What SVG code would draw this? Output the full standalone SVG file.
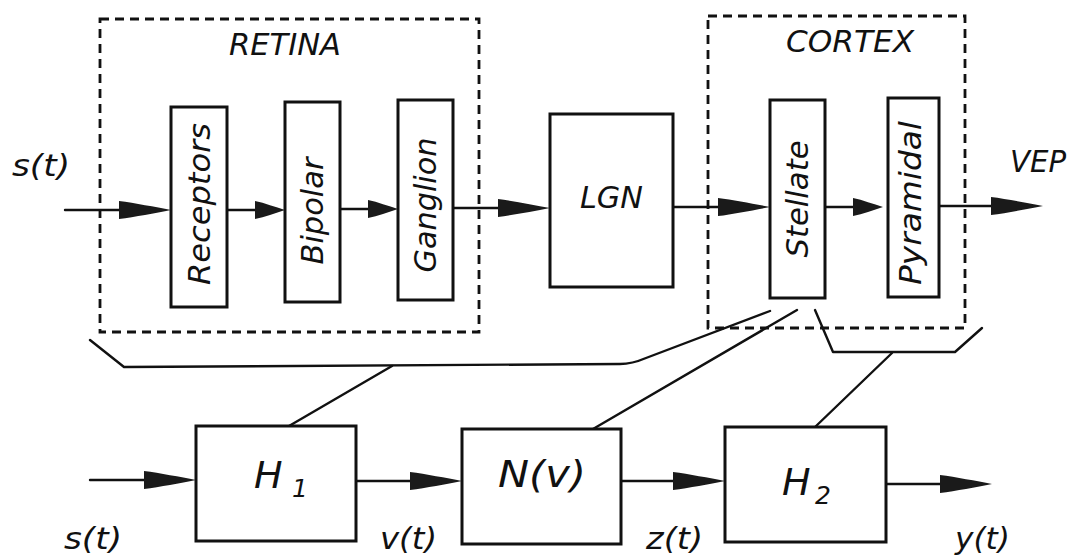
<svg xmlns="http://www.w3.org/2000/svg" width="1072" height="555" viewBox="0 0 1072 555">
<style>
  .bg{fill:#fff}
  .box{fill:#fff;stroke:#111;stroke-width:3}
  .dash{fill:none;stroke:#111;stroke-width:2.8;stroke-dasharray:9 6}
  .ln{fill:none;stroke:#111;stroke-width:2.4;stroke-linejoin:round;stroke-linecap:round}
  .ah{fill:#1a1a1a}
  text{font-family:"DejaVu Sans","Liberation Sans",Arial,sans-serif;font-style:italic;fill:#111}
  .t30{font-size:30px}
  .big{font-size:38px}
  .sub{font-size:25px}
  .rot{font-size:31px;text-anchor:middle}
</style>
<defs>
  <path id="ahL" class="ah" d="M0,0 C-16,-3 -36,-7 -52,-9 L-52,9 C-36,7 -16,3 0,0 Z"/>
  <path id="ahS" class="ah" d="M0,0 C-10,-3 -20,-7 -30,-9 L-30,9 C-20,7 -10,3 0,0 Z"/>
</defs>
<rect class="bg" x="0" y="0" width="1072" height="555"/>

<g id="retina">
  <rect class="dash" x="100" y="19" width="379" height="313"/>
  <text class="t30" x="285" y="55" text-anchor="middle" textLength="112" lengthAdjust="spacingAndGlyphs">RETINA</text>
</g>
<g id="cortex">
  <rect class="dash" x="708" y="16" width="257" height="312"/>
  <text class="t30" x="850" y="52" text-anchor="middle" textLength="128" lengthAdjust="spacingAndGlyphs">CORTEX</text>
</g>

<g id="connectors">
  <line class="ln" x1="65" y1="210" x2="140" y2="210"/>
  <line class="ln" x1="227" y1="210" x2="270" y2="210"/>
  <line class="ln" x1="340" y1="209" x2="380" y2="209"/>
  <line class="ln" x1="453" y1="208" x2="520" y2="208"/>
  <line class="ln" x1="673" y1="207" x2="740" y2="207"/>
  <line class="ln" x1="825" y1="207" x2="860" y2="207"/>
  <line class="ln" x1="939" y1="206" x2="1010" y2="206"/>
  <use href="#ahL" x="171" y="210"/>
  <use href="#ahS" x="285" y="210"/>
  <use href="#ahS" x="398" y="209"/>
  <use href="#ahL" x="550" y="208"/>
  <use href="#ahL" x="770" y="207"/>
  <use href="#ahS" x="883" y="207"/>
  <use href="#ahL" x="1043" y="206"/>
  <line class="ln" x1="90" y1="480" x2="160" y2="480"/>
  <line class="ln" x1="356" y1="481" x2="430" y2="481"/>
  <line class="ln" x1="621" y1="481" x2="690" y2="481"/>
  <line class="ln" x1="886" y1="484" x2="960" y2="484"/>
  <use href="#ahL" x="196" y="480"/>
  <use href="#ahL" x="462" y="481"/>
  <use href="#ahL" x="725" y="481"/>
  <use href="#ahL" x="992" y="484"/>
  <path class="ln" d="M90,340 L124,367 L620,364 Q632,364 646,358 L770,311"/>
  <line class="ln" x1="392" y1="366" x2="289" y2="426"/>
  <line class="ln" x1="797" y1="310" x2="593" y2="429"/>
  <path class="ln" d="M815,310 L833,352 L955,352 L982,328"/>
  <line class="ln" x1="892" y1="353" x2="814" y2="428"/>
</g>

<g id="receptors">
  <rect class="box" x="171" y="107" width="56" height="200"/>
  <text class="rot" transform="translate(210,204) rotate(-90)" textLength="162" lengthAdjust="spacingAndGlyphs">Receptors</text>
</g>
<g id="bipolar">
  <rect class="box" x="285" y="102" width="55" height="200"/>
  <text class="rot" transform="translate(323,211) rotate(-90)" textLength="107" lengthAdjust="spacingAndGlyphs">Bipolar</text>
</g>
<g id="ganglion">
  <rect class="box" x="398" y="100" width="55" height="200"/>
  <text class="rot" transform="translate(436,205) rotate(-90)" textLength="135" lengthAdjust="spacingAndGlyphs">Ganglion</text>
</g>
<g id="lgn">
  <rect class="box" x="550" y="114" width="123" height="173"/>
  <text class="t30" x="580" y="208" textLength="63" lengthAdjust="spacingAndGlyphs">LGN</text>
</g>
<g id="stellate">
  <rect class="box" x="770" y="100" width="55" height="198"/>
  <text class="rot" transform="translate(808,199) rotate(-90)" textLength="117" lengthAdjust="spacingAndGlyphs">Stellate</text>
</g>
<g id="pyramidal">
  <rect class="box" x="888" y="98" width="51" height="199"/>
  <text class="rot" transform="translate(921,203) rotate(-90)" textLength="164" lengthAdjust="spacingAndGlyphs">Pyramidal</text>
</g>

<g id="h1">
  <rect class="box" x="196" y="426" width="160" height="115"/>
  <text class="big" x="254" y="488">H</text>
  <text class="sub" x="292" y="497">1</text>
</g>
<g id="nv">
  <rect class="box" x="462" y="429" width="159" height="115"/>
  <text class="big" x="498" y="487" textLength="88" lengthAdjust="spacingAndGlyphs">N(v)</text>
</g>
<g id="h2">
  <rect class="box" x="725" y="427" width="161" height="115"/>
  <text class="big" x="782" y="495">H</text>
  <text class="sub" x="815" y="504">2</text>
</g>

<g id="labels">
  <text class="t30" x="12" y="176" textLength="58" lengthAdjust="spacingAndGlyphs">s(t)</text>
  <text class="t30" x="1010" y="172" textLength="56" lengthAdjust="spacingAndGlyphs">VEP</text>
  <text class="t30" x="64" y="549" textLength="58" lengthAdjust="spacingAndGlyphs">s(t)</text>
  <text class="t30" x="380" y="549" textLength="57" lengthAdjust="spacingAndGlyphs">v(t)</text>
  <text class="t30" x="646" y="549" textLength="57" lengthAdjust="spacingAndGlyphs">z(t)</text>
  <text class="t30" x="955" y="549" textLength="55" lengthAdjust="spacingAndGlyphs">y(t)</text>
</g>
</svg>
